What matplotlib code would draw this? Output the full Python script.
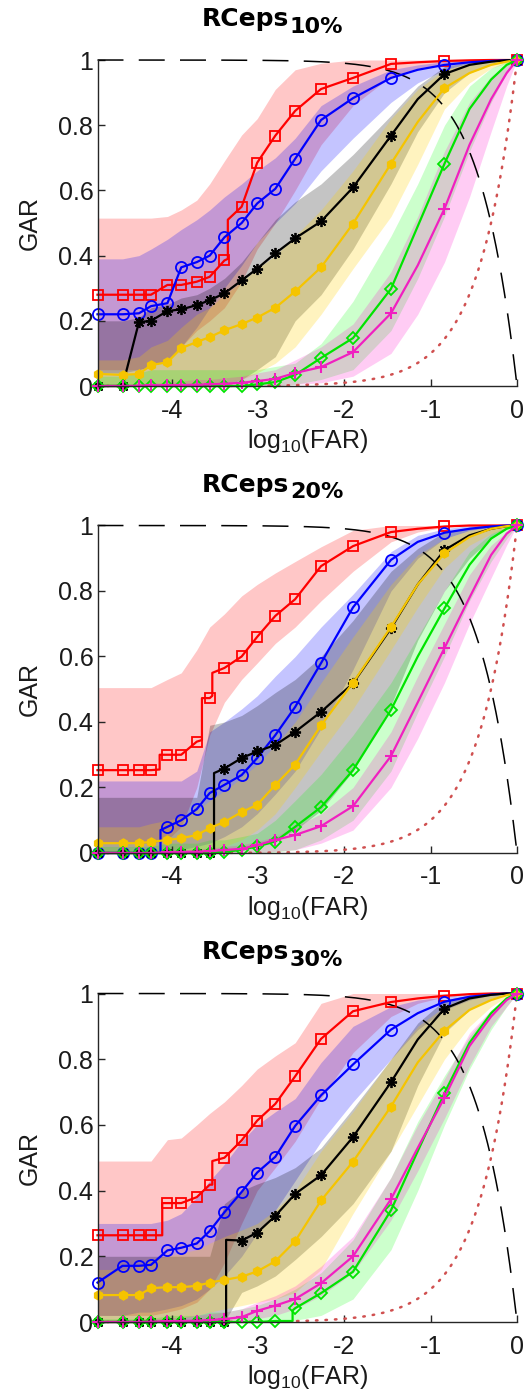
import numpy as np
import matplotlib.pyplot as plt

plt.rcParams['font.family'] = 'Liberation Sans'
plt.rcParams['mathtext.fontset'] = 'custom'
plt.rcParams['mathtext.rm'] = 'Liberation Sans'
plt.rcParams['mathtext.it'] = 'Liberation Sans:italic'
plt.rcParams['axes.unicode_minus'] = False

# log10(FAR) positions of the sampled ROC points
log_far = [-4.86, -4.57, -4.38, -4.24, -4.05, -3.89, -3.71, -3.56, -3.39, -3.19, -3.01,
           -2.80, -2.57, -2.27, -1.90, -1.46, -1.15, -0.84, -0.55, -0.30, -0.12, 0.0]
# which of them carry a marker
mark_idx = [0, 1, 2, 3, 4, 5, 6, 7, 8, 9, 10, 11, 12, 13, 14, 15, 17, 21]

# ---- RCeps 10% ----
red_10 = [0.28, 0.28, 0.28, 0.28, 0.31, 0.31, 0.32, 0.335, 0.385, 0.55, 0.685, 0.768, 0.844, 0.911, 0.945, 0.988, 0.993, 0.997, 0.999, 1, 1, 1]
blue_10 = [0.22, 0.22, 0.223, 0.245, 0.254, 0.364, 0.38, 0.40, 0.456, 0.50, 0.56, 0.605, 0.697, 0.816, 0.883, 0.945, 0.97, 0.985, 0.993, 0.997, 0.999, 1]
black_10 = [0, 0, 0.196, 0.20, 0.23, 0.235, 0.248, 0.263, 0.284, 0.324, 0.36, 0.407, 0.453, 0.505, 0.609, 0.768, 0.88, 0.957, 0.985, 0.995, 0.999, 1]
yellow_10 = [0.037, 0.034, 0.037, 0.064, 0.073, 0.116, 0.135, 0.15, 0.171, 0.19, 0.21, 0.24, 0.29, 0.364, 0.498, 0.682, 0.81, 0.914, 0.96, 0.985, 0.995, 1]
green_10 = [0, 0, 0, 0, 0, 0, 0, 0, 0, 0, 0.005, 0.012, 0.034, 0.086, 0.147, 0.298, 0.49, 0.682, 0.85, 0.94, 0.985, 1]
magenta_10 = [0, 0, 0.001, 0.002, 0.002, 0.003, 0.004, 0.005, 0.007, 0.01, 0.015, 0.022, 0.04, 0.058, 0.104, 0.223, 0.37, 0.544, 0.74, 0.88, 0.96, 1]

red_10_lo = [0.05, 0.05, 0.05, 0.06, 0.08, 0.12, 0.17, 0.20, 0.24, 0.32, 0.42, 0.50, 0.60, 0.74, 0.86, 0.95, 0.975, 0.99, 0.997, 1, 1, 1]
red_10_hi = [0.515, 0.515, 0.515, 0.515, 0.52, 0.54, 0.57, 0.62, 0.69, 0.77, 0.82, 0.91, 0.97, 0.99, 1, 1, 1, 1, 1, 1, 1, 1]
blue_10_lo = [0.04, 0.04, 0.05, 0.06, 0.08, 0.12, 0.18, 0.24, 0.30, 0.37, 0.44, 0.50, 0.56, 0.66, 0.76, 0.87, 0.93, 0.97, 0.99, 0.997, 1, 1]
blue_10_hi = [0.39, 0.39, 0.40, 0.42, 0.45, 0.48, 0.51, 0.54, 0.58, 0.62, 0.66, 0.70, 0.76, 0.86, 0.92, 0.97, 0.985, 0.995, 1, 1, 1, 1]
black_10_lo = [0, 0, 0, 0, 0, 0, 0, 0, 0, 0.02, 0.05, 0.09, 0.20, 0.28, 0.42, 0.62, 0.78, 0.90, 0.96, 0.985, 0.995, 1]
black_10_hi = [0.20, 0.20, 0.21, 0.24, 0.25, 0.27, 0.28, 0.30, 0.33, 0.38, 0.44, 0.51, 0.565, 0.62, 0.71, 0.83, 0.92, 0.98, 0.995, 1, 1, 1]
yellow_10_lo = [0, 0, 0, 0, 0, 0, 0, 0.005, 0.01, 0.02, 0.04, 0.07, 0.12, 0.22, 0.36, 0.52, 0.68, 0.85, 0.93, 0.975, 0.99, 1]
yellow_10_hi = [0.08, 0.08, 0.09, 0.12, 0.14, 0.18, 0.22, 0.24, 0.28, 0.32, 0.36, 0.40, 0.46, 0.54, 0.66, 0.82, 0.91, 0.97, 0.99, 1, 1, 1]
green_10_lo = [0, 0, 0, 0, 0, 0, 0, 0, 0, 0, 0, 0, 0.005, 0.02, 0.05, 0.17, 0.33, 0.52, 0.72, 0.87, 0.96, 1]
green_10_hi = [0.03, 0.03, 0.04, 0.05, 0.05, 0.05, 0.05, 0.05, 0.05, 0.05, 0.05, 0.06, 0.07, 0.13, 0.26, 0.46, 0.62, 0.80, 0.92, 0.975, 0.995, 1]
magenta_10_lo = [0, 0, 0, 0, 0, 0, 0, 0, 0, 0, 0, 0, 0.005, 0.01, 0.03, 0.10, 0.22, 0.38, 0.58, 0.78, 0.92, 1]
magenta_10_hi = [0, 0, 0.005, 0.01, 0.01, 0.015, 0.02, 0.02, 0.025, 0.03, 0.04, 0.05, 0.08, 0.12, 0.19, 0.35, 0.52, 0.72, 0.87, 0.95, 0.985, 1]

# ---- RCeps 20% ----
red_20 = [0.253, 0.253, 0.253, 0.253, 0.30, 0.30, 0.34, 0.473, 0.565, 0.60, 0.66, 0.724, 0.775, 0.876, 0.937, 0.98, 0.99, 0.997, 1, 1, 1, 1]
blue_20 = [0, 0, 0, 0, 0.08, 0.10, 0.134, 0.183, 0.208, 0.238, 0.29, 0.36, 0.446, 0.58, 0.75, 0.895, 0.95, 0.978, 0.99, 0.997, 1, 1]
black_20 = [0, 0, 0, 0, 0, 0, 0, 0, 0.258, 0.29, 0.31, 0.33, 0.37, 0.431, 0.518, 0.686, 0.82, 0.925, 0.97, 0.99, 0.998, 1]
yellow_20 = [0.03, 0.03, 0.03, 0.034, 0.04, 0.045, 0.055, 0.076, 0.095, 0.125, 0.147, 0.208, 0.27, 0.39, 0.52, 0.69, 0.82, 0.915, 0.965, 0.99, 0.998, 1]
green_20 = [0, 0, 0, 0, 0, 0, 0, 0, 0.003, 0.01, 0.02, 0.035, 0.08, 0.14, 0.253, 0.437, 0.60, 0.747, 0.88, 0.96, 0.99, 1]
magenta_20 = [0, 0, 0, 0, 0.002, 0.003, 0.004, 0.006, 0.009, 0.013, 0.024, 0.04, 0.055, 0.082, 0.143, 0.296, 0.46, 0.626, 0.78, 0.91, 0.975, 1]

red_20_lo = [0.03, 0.03, 0.03, 0.03, 0.04, 0.08, 0.20, 0.36, 0.46, 0.53, 0.58, 0.64, 0.69, 0.77, 0.86, 0.95, 0.98, 0.995, 1, 1, 1, 1]
red_20_hi = [0.505, 0.505, 0.505, 0.505, 0.53, 0.55, 0.62, 0.69, 0.73, 0.785, 0.82, 0.855, 0.89, 0.935, 0.985, 1, 1, 1, 1, 1, 1, 1]
blue_20_lo = [0, 0, 0, 0, 0, 0.01, 0.02, 0.03, 0.05, 0.08, 0.12, 0.18, 0.25, 0.38, 0.56, 0.80, 0.90, 0.96, 0.985, 0.995, 1, 1]
blue_20_hi = [0.22, 0.22, 0.22, 0.22, 0.22, 0.22, 0.25, 0.37, 0.40, 0.44, 0.48, 0.54, 0.60, 0.69, 0.79, 0.92, 0.97, 0.99, 1, 1, 1, 1]
black_20_lo = [0, 0, 0, 0, 0, 0, 0, 0, 0, 0.01, 0.02, 0.04, 0.07, 0.13, 0.25, 0.45, 0.65, 0.80, 0.90, 0.96, 0.99, 1]
black_20_hi = [0.17, 0.17, 0.17, 0.17, 0.17, 0.17, 0.17, 0.39, 0.40, 0.42, 0.45, 0.49, 0.53, 0.60, 0.71, 0.86, 0.93, 0.98, 0.995, 1, 1, 1]
yellow_20_lo = [0, 0, 0, 0, 0, 0, 0.005, 0.01, 0.02, 0.04, 0.07, 0.12, 0.20, 0.31, 0.44, 0.62, 0.75, 0.87, 0.94, 0.975, 0.99, 1]
yellow_20_hi = [0.08, 0.08, 0.08, 0.09, 0.10, 0.11, 0.13, 0.16, 0.19, 0.23, 0.27, 0.33, 0.40, 0.52, 0.66, 0.82, 0.91, 0.96, 0.985, 0.995, 1, 1]
green_20_lo = [0, 0, 0, 0, 0, 0, 0, 0, 0, 0, 0, 0.003, 0.01, 0.04, 0.10, 0.25, 0.43, 0.60, 0.77, 0.89, 0.96, 1]
green_20_hi = [0.02, 0.02, 0.02, 0.02, 0.03, 0.03, 0.03, 0.04, 0.04, 0.05, 0.06, 0.10, 0.16, 0.24, 0.36, 0.52, 0.66, 0.80, 0.92, 0.975, 0.995, 1]
magenta_20_lo = [0, 0, 0, 0, 0, 0, 0, 0, 0, 0, 0, 0.005, 0.01, 0.03, 0.07, 0.20, 0.35, 0.52, 0.70, 0.84, 0.94, 1]
magenta_20_hi = [0, 0.003, 0.005, 0.006, 0.008, 0.01, 0.012, 0.015, 0.02, 0.025, 0.035, 0.05, 0.08, 0.12, 0.20, 0.37, 0.54, 0.70, 0.85, 0.94, 0.98, 1]

# ---- RCeps 30% ----
red_30 = [0.264, 0.264, 0.264, 0.264, 0.362, 0.362, 0.38, 0.418, 0.50, 0.553, 0.613, 0.664, 0.748, 0.862, 0.946, 0.974, 0.985, 0.993, 0.998, 1, 1, 1]
blue_30 = [0.12, 0.171, 0.171, 0.174, 0.218, 0.226, 0.239, 0.277, 0.334, 0.396, 0.455, 0.503, 0.597, 0.69, 0.784, 0.89, 0.94, 0.975, 0.99, 0.997, 1, 1]
black_30 = [0, 0, 0, 0, 0, 0, 0, 0, 0, 0.248, 0.272, 0.323, 0.39, 0.447, 0.563, 0.73, 0.86, 0.954, 0.985, 0.996, 1, 1]
yellow_30 = [0.082, 0.082, 0.082, 0.103, 0.106, 0.106, 0.11, 0.12, 0.128, 0.138, 0.154, 0.185, 0.246, 0.37, 0.488, 0.656, 0.79, 0.887, 0.95, 0.98, 0.995, 1]
green_30 = [0, 0, 0, 0, 0, 0, 0, 0, 0, 0, 0, 0.003, 0.042, 0.088, 0.153, 0.34, 0.52, 0.697, 0.85, 0.94, 0.985, 1]
magenta_30 = [0, 0, 0, 0.001, 0.002, 0.003, 0.004, 0.006, 0.009, 0.015, 0.034, 0.05, 0.07, 0.118, 0.2, 0.374, 0.53, 0.683, 0.84, 0.93, 0.98, 1]

red_30_lo = [0.02, 0.02, 0.02, 0.02, 0.03, 0.04, 0.06, 0.10, 0.18, 0.30, 0.40, 0.47, 0.55, 0.68, 0.82, 0.93, 0.97, 0.99, 0.998, 1, 1, 1]
red_30_hi = [0.49, 0.49, 0.49, 0.49, 0.555, 0.56, 0.60, 0.635, 0.67, 0.72, 0.77, 0.81, 0.85, 0.97, 1, 1, 1, 1, 1, 1, 1, 1]
blue_30_lo = [0.02, 0.02, 0.03, 0.03, 0.04, 0.05, 0.07, 0.10, 0.14, 0.20, 0.27, 0.34, 0.43, 0.55, 0.67, 0.80, 0.89, 0.95, 0.98, 0.995, 1, 1]
blue_30_hi = [0.30, 0.30, 0.30, 0.30, 0.31, 0.33, 0.38, 0.43, 0.48, 0.55, 0.60, 0.64, 0.68, 0.79, 0.90, 0.96, 0.98, 0.99, 1, 1, 1, 1]
black_30_lo = [0, 0, 0, 0, 0, 0, 0, 0, 0, 0.09, 0.11, 0.14, 0.19, 0.26, 0.36, 0.52, 0.72, 0.88, 0.95, 0.985, 0.997, 1]
black_30_hi = [0.20, 0.20, 0.20, 0.20, 0.20, 0.20, 0.20, 0.20, 0.36, 0.40, 0.42, 0.44, 0.47, 0.53, 0.65, 0.80, 0.91, 0.98, 0.995, 1, 1, 1]
yellow_30_lo = [0, 0, 0, 0, 0.01, 0.01, 0.02, 0.03, 0.04, 0.05, 0.06, 0.07, 0.09, 0.16, 0.33, 0.52, 0.66, 0.80, 0.90, 0.96, 0.99, 1]
yellow_30_hi = [0.16, 0.16, 0.17, 0.19, 0.20, 0.21, 0.22, 0.24, 0.26, 0.28, 0.30, 0.34, 0.40, 0.52, 0.64, 0.80, 0.90, 0.96, 0.985, 0.995, 1, 1]
green_30_lo = [0, 0, 0, 0, 0, 0, 0, 0, 0, 0, 0, 0, 0.005, 0.02, 0.07, 0.22, 0.40, 0.60, 0.77, 0.89, 0.96, 1]
green_30_hi = [0.01, 0.01, 0.01, 0.01, 0.02, 0.02, 0.02, 0.03, 0.03, 0.04, 0.05, 0.07, 0.10, 0.15, 0.25, 0.44, 0.61, 0.75, 0.87, 0.95, 0.985, 1]
magenta_30_lo = [0, 0, 0, 0, 0, 0, 0, 0, 0, 0, 0.01, 0.02, 0.04, 0.08, 0.15, 0.31, 0.46, 0.62, 0.78, 0.90, 0.96, 1]
magenta_30_hi = [0.005, 0.005, 0.008, 0.01, 0.012, 0.015, 0.02, 0.025, 0.03, 0.04, 0.06, 0.08, 0.11, 0.17, 0.26, 0.44, 0.60, 0.74, 0.88, 0.95, 0.985, 1]

# vertical jumps of the ROC curves: (log10 FAR, GAR before, GAR after)
steps_10 = {'red': [(-3.35, 0.39, 0.51)]}
steps_20 = {'red': [(-4.14, 0.255, 0.30), (-3.65, 0.345, 0.473), (-3.53, 0.48, 0.55)],
            'blue': [(-4.13, 0.0, 0.07)],
            'black': [(-3.51, 0.0, 0.244)]}
steps_30 = {'red': [(-4.11, 0.264, 0.362), (-3.53, 0.418, 0.49)],
            'black': [(-3.37, 0.0, 0.25)],
            'green': [(-2.60, 0.003, 0.035)]}

panels = [
    ('10', {'red': (red_10, red_10_lo, red_10_hi), 'blue': (blue_10, blue_10_lo, blue_10_hi),
            'black': (black_10, black_10_lo, black_10_hi), 'yellow': (yellow_10, yellow_10_lo, yellow_10_hi),
            'green': (green_10, green_10_lo, green_10_hi), 'magenta': (magenta_10, magenta_10_lo, magenta_10_hi)},
     steps_10),
    ('20', {'red': (red_20, red_20_lo, red_20_hi), 'blue': (blue_20, blue_20_lo, blue_20_hi),
            'black': (black_20, black_20_lo, black_20_hi), 'yellow': (yellow_20, yellow_20_lo, yellow_20_hi),
            'green': (green_20, green_20_lo, green_20_hi), 'magenta': (magenta_20, magenta_20_lo, magenta_20_hi)},
     steps_20),
    ('30', {'red': (red_30, red_30_lo, red_30_hi), 'blue': (blue_30, blue_30_lo, blue_30_hi),
            'black': (black_30, black_30_lo, black_30_hi), 'yellow': (yellow_30, yellow_30_lo, yellow_30_hi),
            'green': (green_30, green_30_lo, green_30_hi), 'magenta': (magenta_30, magenta_30_lo, magenta_30_hi)},
     steps_30),
]

line_col = {'red': '#ff0000', 'blue': '#0000ff', 'black': '#000000',
            'yellow': '#f5c400', 'green': '#00e400', 'magenta': '#f020c0'}
fill_col = {'red': ('#ff0000', 0.22), 'blue': ('#0000ff', 0.23), 'black': ('#000000', 0.23),
            'yellow': ('#ffd200', 0.25), 'green': ('#00ff00', 0.2), 'magenta': ('#ff00cc', 0.2)}
mark = {'red': dict(marker='s', ms=7.5, mfc='none', mew=1.3),
        'blue': dict(marker='o', ms=8, mfc='none', mew=1.3),
        'black': dict(marker=(8, 2, 0), ms=8, mew=1.3),
        'yellow': dict(marker='h', ms=6.5, mfc='#f5c400', mew=1.0),
        'green': dict(marker='D', ms=6, mfc='none', mew=1.3),
        'magenta': dict(marker='+', ms=8, mew=1.5)}
order = ['red', 'blue', 'black', 'yellow', 'green', 'magenta']

# chance line (GAR = FAR) and its complement
far_ref = np.logspace(-4.86, 0, 300)


def with_steps(x, y, steps):
    xs, ys = list(x), list(y)
    for sx, y0, y1 in steps:
        i = int(np.searchsorted(xs, sx))
        xs[i:i] = [sx, sx]
        ys[i:i] = [y0, y1]
    return xs, ys


W, H = 529, 1396
fig = plt.figure(figsize=(W / 100, H / 100), dpi=100)

# axes boxes in pixels: (top, bottom)
boxes = [(60, 386), (525.5, 853), (993.5, 1322)]
left_px, right_px = 97.5, 517
xm = np.array(log_far)[mark_idx]

for (pct, curves, steps), (top, bot) in zip(panels, boxes):
    ax = fig.add_axes([left_px / W, 1 - bot / H, (right_px - left_px) / W, (bot - top) / H])

    for k in order:
        gar, lo, hi = curves[k]
        c, a = fill_col[k]
        ax.fill_between(log_far, lo, hi, color=c, alpha=a, lw=0)

    ax.plot(np.log10(far_ref), far_ref, color='#d05050', lw=1.8, ls=(0, (0.6, 3.2)),
            dash_capstyle='round', clip_on=False)
    ax.plot(np.log10(far_ref), 1 - far_ref, color='k', lw=1.1, ls=(0, (17, 10)), clip_on=False)

    for k in order:
        gar = curves[k][0]
        lx, ly = with_steps(log_far, gar, steps.get(k, []))
        ax.plot(lx, ly, color=line_col[k], lw=1.6, clip_on=False)
        ax.plot(xm, np.array(gar)[mark_idx], ls='none', color=line_col[k], mec=line_col[k],
                clip_on=False, **mark[k])

    ax.set_xlim(-4.86, 0)
    ax.set_ylim(0, 1)
    for s in ['top', 'right']:
        ax.spines[s].set_visible(False)
    for s in ['left', 'bottom']:
        ax.spines[s].set_color('#262626')
        ax.spines[s].set_linewidth(1.0)
    ax.set_xticks([-4, -3, -2, -1, 0])
    ax.set_xticklabels(['-4', '-3', '-2', '-1', '0'])
    ax.set_yticks([0, 0.2, 0.4, 0.6, 0.8, 1])
    ax.set_yticklabels(['0', '0.2', '0.4', '0.6', '0.8', '1'])
    ax.tick_params(direction='in', length=5, width=1, colors='#262626', labelsize=18,
                   labelcolor='#1a1a1a')
    ax.tick_params(axis='x', pad=9)
    ax.tick_params(axis='y', pad=3)
    ax.set_ylabel('GAR', fontsize=18, color='#1a1a1a')
    ax.yaxis.set_label_coords(-0.132, 0.5)
    ax.set_xlabel('log$_{10}$(FAR)', fontsize=18, color='#1a1a1a')
    ax.xaxis.set_label_coords(0.5, -0.125)

    fig.text(289 / W, 1 - (top - 34) / H, 'RCeps', family='DejaVu Sans', weight='bold',
             fontsize=18, ha='right', va='baseline')
    fig.text(290 / W, 1 - (top - 27) / H, pct + '%', family='DejaVu Sans', weight='bold',
             fontsize=16, ha='left', va='baseline')

fig.savefig('out.png', dpi=100)
